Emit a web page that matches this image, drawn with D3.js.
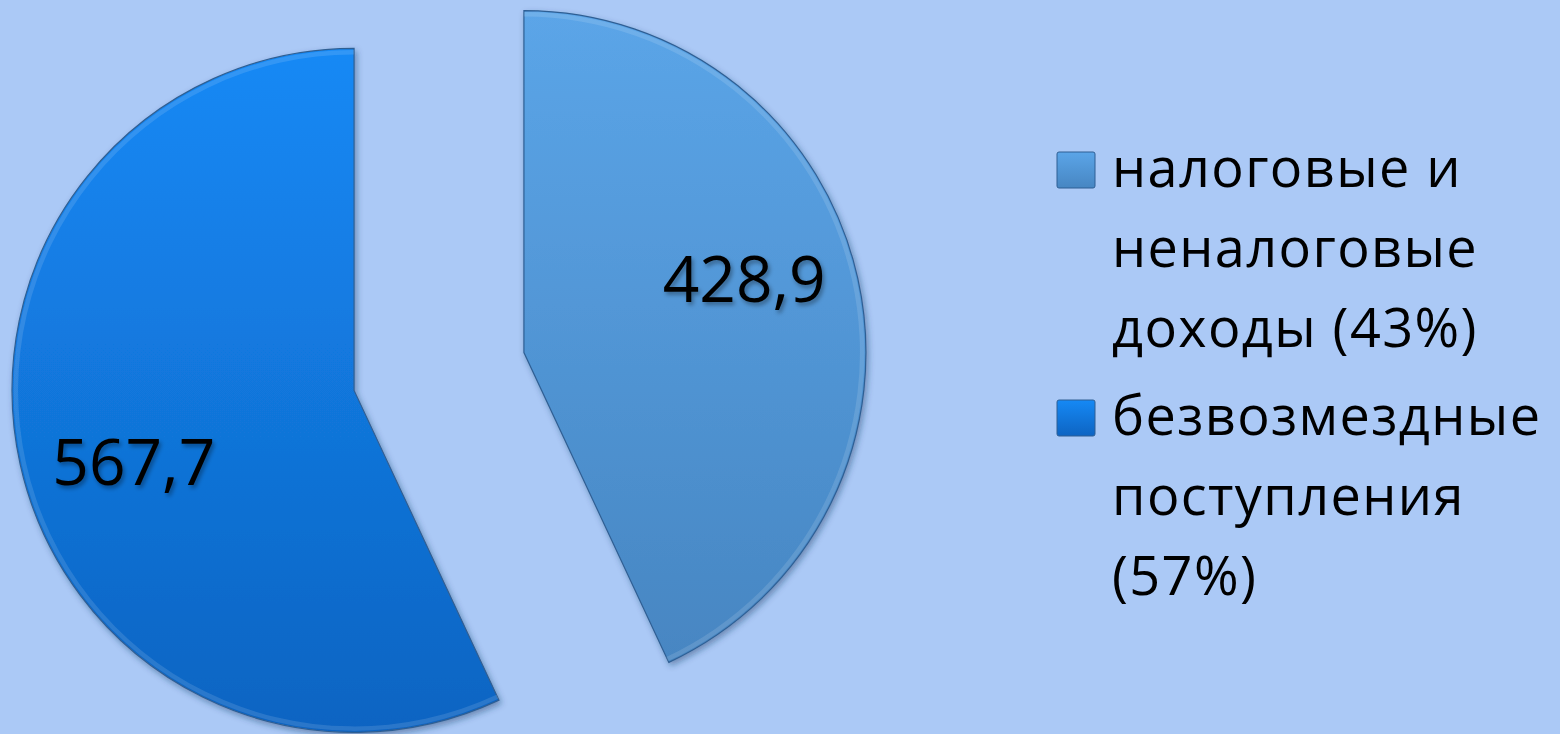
<!DOCTYPE html>
<html>
<head>
<meta charset="utf-8">
<script src="https://cdn.jsdelivr.net/npm/d3@7"></script>
<style>
  html, body { margin: 0; padding: 0; background: #abc9f6; }
  svg { display: block; }
</style>
</head>
<body>
<svg id="chart"></svg>
<script>
// data
const categories = ["налоговые и неналоговые доходы", "безвозмездные поступления"];
const values = [428.9, 567.7];
const valueLabels = ["428,9", "567,7"];
const legendLines = [
  ["налоговые и", "неналоговые", "доходы (43%)"],
  ["безвозмездные", "поступления", "(57%)"]
];
const colorsTop = ["#5ba5e8", "#1589f5"];
const colorsBottom = ["#4786c2", "#0e64c2"];

const width = 1560, height = 734;
const svg = d3.select("#chart")
    .attr("width", width)
    .attr("height", height);

svg.append("rect")
    .attr("width", width)
    .attr("height", height)
    .attr("fill", "#abc9f6");

const defs = svg.append("defs");

const shadow = defs.append("filter")
    .attr("id", "shadow")
    .attr("x", "-10%").attr("y", "-10%")
    .attr("width", "120%").attr("height", "120%");
shadow.append("feDropShadow")
    .attr("dx", 2).attr("dy", 3)
    .attr("stdDeviation", 3)
    .attr("flood-color", "#1a3a66")
    .attr("flood-opacity", 0.45);

const textShadow = defs.append("filter")
    .attr("id", "textShadow")
    .attr("x", "-10%").attr("y", "-20%")
    .attr("width", "120%").attr("height", "140%");
textShadow.append("feDropShadow")
    .attr("dx", 2).attr("dy", 3)
    .attr("stdDeviation", 2)
    .attr("flood-color", "#000")
    .attr("flood-opacity", 0.35);

categories.forEach((c, i) => {
    const grad = defs.append("linearGradient")
        .attr("id", "grad" + i)
        .attr("x1", 0).attr("y1", 0)
        .attr("x2", 0).attr("y2", 1);
    grad.append("stop").attr("offset", "0%").attr("stop-color", colorsTop[i]);
    grad.append("stop").attr("offset", "100%").attr("stop-color", colorsBottom[i]);
});

// pie layout
const cx = 439, cy = 371.5;
const radius = 342;
const explode = 87;

const pie = d3.pie().sort(null).value(d => d);
const arcs = pie(values);

const arc = d3.arc().innerRadius(0).outerRadius(radius);
const labelArc = d3.arc().innerRadius(232).outerRadius(232);
const labelTurn = -0.1; // labels sit a little counter-clockwise of the slice middle

const g = svg.append("g")
    .attr("transform", `translate(${cx},${cy})`);

const slices = g.selectAll(".slice")
    .data(arcs)
    .enter().append("g")
    .attr("class", "slice")
    .attr("transform", d => {
        const a = (d.startAngle + d.endAngle) / 2;
        return `translate(${Math.sin(a) * explode},${-Math.cos(a) * explode})`;
    });

slices.append("path")
    .attr("d", arc)
    .attr("fill", (d, i) => `url(#grad${i})`)
    .attr("stroke", "#2f5f94")
    .attr("stroke-width", 1.2)
    .attr("filter", "url(#shadow)");

// light bevel along the outer rim
slices.append("path")
    .attr("d", d3.arc().innerRadius(radius - 6).outerRadius(radius - 1.5))
    .attr("fill", "#ffffff")
    .attr("opacity", 0.12);

slices.append("text")
    .attr("transform", d => {
        const [x, y] = labelArc.centroid({
            startAngle: d.startAngle + labelTurn,
            endAngle: d.endAngle + labelTurn
        });
        return `translate(${x},${y})`;
    })
    .attr("text-anchor", "middle")
    .attr("dy", "0.35em")
    .attr("font-family", "'Open Sans', sans-serif")
    .attr("font-size", 64)
    .attr("fill", "#000")
    .attr("filter", "url(#textShadow)")
    .text((d, i) => valueLabels[i]);

// legend
const legend = svg.append("g")
    .attr("transform", "translate(1057,0)");

const lineHeight = 80;
const legendStart = [187, 435];

legendLines.forEach((lines, i) => {
    const item = legend.append("g");
    item.append("rect")
        .attr("x", 0)
        .attr("y", legendStart[i] - 35)
        .attr("width", 38)
        .attr("height", 36)
        .attr("rx", 2)
        .attr("fill", `url(#grad${i})`)
        .attr("stroke", "#2f5f94")
        .attr("stroke-width", 1);
    item.selectAll("text")
        .data(lines)
        .enter().append("text")
        .attr("x", 55)
        .attr("y", (d, j) => legendStart[i] + j * lineHeight)
        .attr("font-family", "'Open Sans', sans-serif")
        .attr("font-size", 54)
        .attr("letter-spacing", 1.4)
        .attr("fill", "#000")
        .text(d => d);
});
</script>
</body>
</html>
